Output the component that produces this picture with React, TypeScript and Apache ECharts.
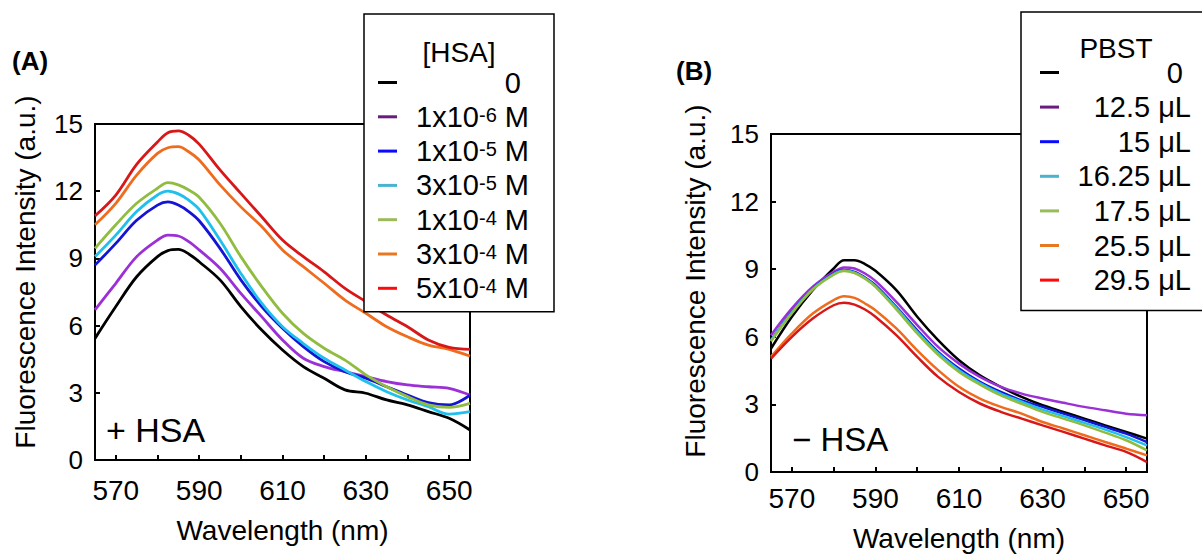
import React, { useEffect, useRef } from "react";
import * as echarts from "echarts";

const wavelengths = [565, 570, 575, 580, 582.5, 585, 587.5, 590, 595, 600, 605, 610, 615, 620, 625, 630, 635, 640, 645, 650, 655];

const namesA = ["0", "1x10-6 M", "1x10-5 M", "3x10-5 M", "1x10-4 M", "3x10-4 M", "5x10-4 M"];
const namesB = ["0", "12.5 μL", "15 μL", "16.25 μL", "17.5 μL", "25.5 μL", "29.5 μL"];

const lineColors = ["#000000", "#9b30d6", "#1414d4", "#1fbfee", "#90bd40", "#ef6c1e", "#d81818"];
const legendColors = ["#000000", "#6a1b7e", "#0a0aff", "#4ab4d0", "#9bbb59", "#e87722", "#ff0a0a"];

const aBlack = [5.43, 6.85, 8.18, 9.08, 9.35, 9.40, 9.20, 8.85, 8.04, 6.85, 5.80, 4.91, 4.17, 3.65, 3.13, 2.98, 2.68, 2.46, 2.16, 1.86, 1.34];
const aPurple = [6.70, 7.89, 9.08, 9.82, 10.04, 10.00, 9.75, 9.38, 8.56, 7.44, 6.40, 5.36, 4.54, 4.17, 3.94, 3.72, 3.50, 3.35, 3.27, 3.20, 2.90];
const aBlue = [8.70, 9.67, 10.70, 11.38, 11.52, 11.38, 11.09, 10.68, 9.45, 8.04, 6.85, 5.88, 5.06, 4.39, 3.94, 3.65, 3.27, 2.90, 2.56, 2.46, 2.90];
const aCyan = [9.08, 10.04, 11.09, 11.83, 12.00, 11.88, 11.60, 11.19, 9.82, 8.33, 7.00, 5.95, 5.20, 4.54, 4.02, 3.50, 3.05, 2.68, 2.38, 2.05, 2.16];
const aGreen = [9.45, 10.50, 11.46, 12.13, 12.38, 12.28, 12.05, 11.73, 10.57, 9.08, 7.74, 6.55, 5.65, 4.99, 4.46, 3.80, 3.27, 2.83, 2.46, 2.35, 2.53];
const aOrange = [10.50, 11.46, 12.72, 13.69, 13.94, 13.99, 13.76, 13.39, 12.28, 11.30, 10.42, 9.38, 8.63, 7.89, 7.14, 6.55, 5.95, 5.50, 5.13, 4.94, 4.64];
const aRed = [10.90, 11.83, 13.20, 14.20, 14.61, 14.69, 14.50, 14.10, 12.95, 11.90, 10.86, 9.82, 9.08, 8.40, 7.66, 7.07, 6.47, 5.95, 5.36, 5.03, 4.94];

const bBlack = [5.48, 6.89, 8.07, 9.03, 9.40, 9.40, 9.23, 8.93, 8.07, 6.89, 5.85, 4.96, 4.29, 3.78, 3.33, 2.96, 2.67, 2.37, 2.07, 1.78, 1.48];
const bPurple = [6.07, 7.26, 8.22, 8.88, 9.08, 9.03, 8.81, 8.48, 7.55, 6.52, 5.55, 4.81, 4.22, 3.78, 3.48, 3.26, 3.07, 2.89, 2.74, 2.59, 2.52];
const bBlue = [5.85, 7.10, 8.14, 8.81, 8.96, 8.88, 8.63, 8.29, 7.33, 6.29, 5.33, 4.59, 4.00, 3.55, 3.18, 2.89, 2.59, 2.30, 2.00, 1.70, 1.33];
const bCyan = [5.85, 7.08, 8.12, 8.78, 8.94, 8.85, 8.60, 8.25, 7.28, 6.22, 5.27, 4.52, 3.95, 3.48, 3.12, 2.77, 2.48, 2.18, 1.88, 1.55, 1.18];
const bGreen = [5.80, 7.05, 8.10, 8.76, 8.92, 8.83, 8.58, 8.22, 7.22, 6.15, 5.20, 4.44, 3.88, 3.40, 3.03, 2.67, 2.37, 2.07, 1.75, 1.41, 0.96];
const bOrange = [5.11, 6.15, 7.03, 7.63, 7.80, 7.73, 7.48, 7.18, 6.37, 5.40, 4.52, 3.78, 3.26, 2.89, 2.59, 2.22, 1.93, 1.63, 1.33, 1.04, 0.74];
const bRed = [5.03, 6.00, 6.81, 7.40, 7.51, 7.43, 7.21, 6.89, 6.07, 5.11, 4.22, 3.55, 3.04, 2.67, 2.37, 2.07, 1.78, 1.48, 1.18, 0.89, 0.44];

const seriesA = [aBlack, aPurple, aBlue, aCyan, aGreen, aOrange, aRed];
const seriesB = [bBlack, bPurple, bBlue, bCyan, bGreen, bOrange, bRed];

const xLabelValues = [570, 590, 610, 630, 650];
const xTickValues = [570, 580, 590, 600, 610, 620, 630, 640, 650];

const FONT = "'Liberation Sans', Arial, Helvetica, sans-serif";

const rich = {
  n: { fontSize: 29, lineHeight: 24, align: "right", fontFamily: FONT, color: "#000" },
  s: { fontSize: 20, lineHeight: 13, align: "right", verticalAlign: "top", fontFamily: FONT, color: "#000" },
  z: { fontSize: 29, lineHeight: 24, align: "right", fontFamily: FONT, color: "#000", padding: [0, 8, 0, 0] },
};

function fmtA(name: string) {
  const m = name.match(/^(\d)x10(-\d) M$/);
  if (m) return `{n|${m[1]}x10}{s|${m[2]}}{n| M}`;
  return `{z|${name}}`;
}
function fmtB(name: string) {
  if (name === "0") return `{z|0}`;
  return `{n|${name}}`;
}

function makeXAxis(gridIndex: number, nameGap: number, labelMargin: number) {
  return {
    type: "value",
    gridIndex,
    min: 565,
    max: 655,
    name: "Wavelength (nm)",
    nameLocation: "middle",
    nameGap,
    nameTextStyle: { fontSize: 28, color: "#000", fontFamily: FONT },
    axisLine: { show: true, onZero: false, lineStyle: { color: "#000", width: 2 } },
    axisTick: { show: true, inside: true, length: 5, lineStyle: { color: "#000", width: 2 }, customValues: xTickValues },
    axisLabel: { show: true, fontSize: 28, color: "#000", fontFamily: FONT, margin: labelMargin, customValues: xLabelValues },
    splitLine: { show: false },
  };
}

function makeYAxis(gridIndex: number, nameGap: number, shift: number) {
  return {
    type: "value",
    gridIndex,
    min: 0,
    max: 15,
    interval: 3,
    name: "Fluorescence Intensity (a.u.)",
    nameLocation: "middle",
    nameGap,
    nameTextStyle: { fontSize: 28, color: "#000", fontFamily: FONT, padding: [0, 0, 0, shift] },
    axisLine: { show: true, lineStyle: { color: "#000", width: 2 } },
    axisTick: { show: true, inside: true, length: 5, lineStyle: { color: "#000", width: 2 } },
    axisLabel: { show: true, fontSize: 26, color: "#000", fontFamily: FONT, margin: 12 },
    splitLine: { show: false },
  };
}

function makeLegend(names: string[], left: number, top: number, padding: number[], itemGap: number, fmt: (n: string) => string) {
  return {
    show: true,
    orient: "vertical",
    left,
    top,
    padding,
    itemGap,
    itemWidth: 19,
    itemHeight: 3,
    icon: "rect",
    borderColor: "#000",
    borderWidth: 1.5,
    borderRadius: 0,
    backgroundColor: "#fff",
    selectedMode: false,
    data: names.map((n, i) => ({ name: n, itemStyle: { color: legendColors[i] } })),
    formatter: fmt,
    textStyle: { width: 127, fontSize: 29, lineHeight: 24, fontFamily: FONT, color: "#000", rich },
  };
}

export default function App() {
  const ref = useRef<HTMLDivElement>(null);
  useEffect(() => {
    document.body.style.margin = "0";
    const chart = echarts.init(ref.current!, null, { renderer: "svg" });
    const series: any[] = [];
    seriesA.forEach((vals, i) => {
      series.push({
        type: "line",
        name: namesA[i],
        xAxisIndex: 0,
        yAxisIndex: 0,
        data: wavelengths.map((w, k) => [w, vals[k]]),
        showSymbol: false,
        smooth: 0.35,
        lineStyle: { color: lineColors[i], width: 2.8 },
        itemStyle: { color: lineColors[i] },
      });
    });
    seriesB.forEach((vals, i) => {
      series.push({
        type: "line",
        name: namesB[i],
        xAxisIndex: 1,
        yAxisIndex: 1,
        data: wavelengths.map((w, k) => [w, vals[k]]),
        showSymbol: false,
        smooth: 0.35,
        lineStyle: { color: lineColors[i], width: 2.5 },
        itemStyle: { color: lineColors[i] },
      });
    });
    chart.setOption({
      animation: false,
      backgroundColor: "#fff",
      textStyle: { fontFamily: FONT },
      grid: [
        { left: 95, top: 124, width: 375, height: 336, show: true, borderColor: "#000", borderWidth: 2, backgroundColor: "transparent", outerBoundsMode: "none", containLabel: false },
        { left: 771, top: 134, width: 376, height: 338, show: true, borderColor: "#000", borderWidth: 2, backgroundColor: "transparent", outerBoundsMode: "none", containLabel: false },
      ],
      xAxis: [makeXAxis(0, 56, 16), makeXAxis(1, 52, 12)],
      yAxis: [makeYAxis(0, 56, 40), makeYAxis(1, 62, 44)],
      legend: [
        makeLegend(namesA, 364, 14, [54, 25, 9, 14], 5.3, fmtA),
        makeLegend(namesB, 1021, 12, [46, 30, 16, 19], 5.6, fmtB),
      ],
      series,
      graphic: [
        { type: "text", left: 12, top: 48, z: 10, style: { text: "(A)", fontSize: 26, fontWeight: "bold", fontFamily: FONT, fill: "#000" } },
        { type: "text", left: 676, top: 58, z: 10, style: { text: "(B)", fontSize: 26, fontWeight: "bold", fontFamily: FONT, fill: "#000" } },
        { type: "text", x: 459, y: 52, z: 10, style: { text: "[HSA]", fontSize: 28, fontFamily: FONT, fill: "#000", align: "center", verticalAlign: "middle" } },
        { type: "text", x: 1116, y: 48, z: 10, style: { text: "PBST", fontSize: 28, fontFamily: FONT, fill: "#000", align: "center", verticalAlign: "middle" } },
        { type: "text", x: 106, y: 430, z: 10, style: { text: "+ HSA", fontSize: 34, fontFamily: FONT, fill: "#000", align: "left", verticalAlign: "middle" } },
        { type: "text", x: 792, y: 439, z: 10, style: { text: "− HSA", fontSize: 33, fontFamily: FONT, fill: "#000", align: "left", verticalAlign: "middle" } },
      ],
    });
    return () => chart.dispose();
  }, []);
  return <div ref={ref} style={{ width: 1202, height: 555 }} />;
}
